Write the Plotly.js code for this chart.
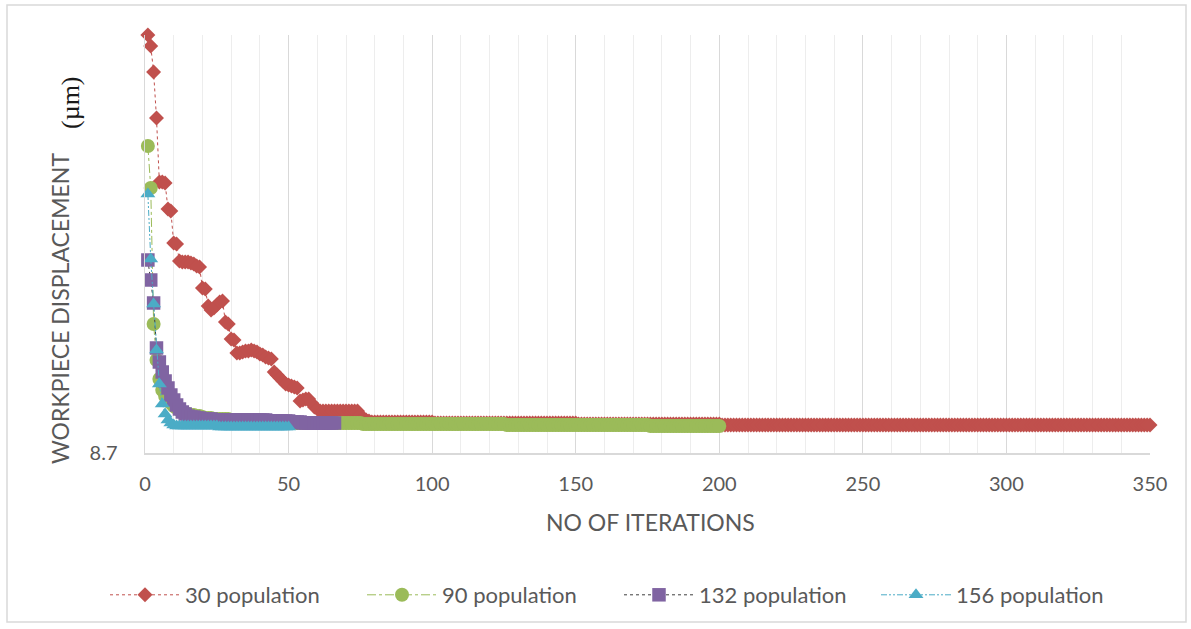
<!DOCTYPE html>
<html>
<head>
<meta charset="utf-8">
<script src="https://cdn.plot.ly/plotly-3.0.1.min.js"></script>
<style>
  html, body { margin: 0; padding: 0; background: #ffffff; }
  #chart { width: 1191px; height: 629px; }
</style>
</head>
<body>
<div id="chart"></div>
<script>
// Best workpiece displacement (µm) per iteration for four population sizes
const seriesNames = ['30 population', '90 population', '132 population', '156 population'];

const pop30 = [
  9.118, 9.107, 9.081, 9.035, 8.971, 8.971, 8.970, 8.944, 8.942, 8.910,
  8.909, 8.892, 8.891, 8.891, 8.891, 8.890, 8.889, 8.887, 8.886, 8.865,
  8.864, 8.847, 8.843, 8.845, 8.848, 8.851, 8.852, 8.831, 8.829, 8.814,
  8.813, 8.800, 8.800, 8.801, 8.802, 8.802, 8.803, 8.802, 8.801, 8.799,
  8.798, 8.796, 8.795, 8.794, 8.781, 8.778, 8.775, 8.772, 8.769, 8.768,
  8.767, 8.766, 8.765, 8.752, 8.753, 8.754, 8.754, 8.750, 8.746, 8.744,
  8.742, 8.742, 8.742, 8.742, 8.742, 8.742, 8.742, 8.742, 8.742, 8.742,
  8.742, 8.742, 8.742, 8.742, 8.738, 8.735, 8.733, 8.732, 8.731, 8.731,
  8.731, 8.731, 8.731, 8.731, 8.731, 8.731, 8.731, 8.731, 8.731, 8.731,
  8.731, 8.731, 8.731, 8.731, 8.731, 8.731, 8.731, 8.731, 8.731, 8.731,
  8.730, 8.730, 8.730, 8.730, 8.730, 8.730, 8.730, 8.730, 8.730, 8.730,
  8.730, 8.730, 8.730, 8.730, 8.730, 8.730, 8.730, 8.730, 8.730, 8.730,
  8.730, 8.730, 8.730, 8.730, 8.730, 8.730, 8.730, 8.730, 8.730, 8.730,
  8.730, 8.730, 8.730, 8.730, 8.730, 8.730, 8.730, 8.730, 8.730, 8.730,
  8.730, 8.730, 8.730, 8.730, 8.730, 8.730, 8.730, 8.730, 8.730, 8.730,
  8.729, 8.729, 8.729, 8.729, 8.729, 8.729, 8.729, 8.729, 8.729, 8.729,
  8.729, 8.729, 8.729, 8.729, 8.729, 8.729, 8.729, 8.729, 8.729, 8.729,
  8.729, 8.729, 8.729, 8.729, 8.729, 8.729, 8.729, 8.729, 8.729, 8.729,
  8.729, 8.729, 8.729, 8.729, 8.729, 8.729, 8.729, 8.729, 8.729, 8.729,
  8.729, 8.729, 8.729, 8.729, 8.729, 8.729, 8.729, 8.729, 8.729, 8.729,
  8.728, 8.728, 8.728, 8.728, 8.728, 8.728, 8.728, 8.728, 8.728, 8.728,
  8.728, 8.728, 8.728, 8.728, 8.728, 8.728, 8.728, 8.728, 8.728, 8.728,
  8.728, 8.728, 8.728, 8.728, 8.728, 8.728, 8.728, 8.728, 8.728, 8.728,
  8.728, 8.728, 8.728, 8.728, 8.728, 8.728, 8.728, 8.728, 8.728, 8.728,
  8.728, 8.728, 8.728, 8.728, 8.728, 8.728, 8.728, 8.728, 8.728, 8.728,
  8.728, 8.728, 8.728, 8.728, 8.728, 8.728, 8.728, 8.728, 8.728, 8.728,
  8.728, 8.728, 8.728, 8.728, 8.728, 8.728, 8.728, 8.728, 8.728, 8.728,
  8.728, 8.728, 8.728, 8.728, 8.728, 8.728, 8.728, 8.728, 8.728, 8.728,
  8.728, 8.728, 8.728, 8.728, 8.728, 8.728, 8.728, 8.728, 8.728, 8.728,
  8.728, 8.728, 8.728, 8.728, 8.728, 8.728, 8.728, 8.728, 8.728, 8.728,
  8.728, 8.728, 8.728, 8.728, 8.728, 8.728, 8.728, 8.728, 8.728, 8.728,
  8.728, 8.728, 8.728, 8.728, 8.728, 8.728, 8.728, 8.728, 8.728, 8.728,
  8.728, 8.728, 8.728, 8.728, 8.728, 8.728, 8.728, 8.728, 8.728, 8.728,
  8.728, 8.728, 8.728, 8.728, 8.728, 8.728, 8.728, 8.728, 8.728, 8.728,
  8.728, 8.728, 8.728, 8.728, 8.728, 8.728, 8.728, 8.728, 8.728, 8.728
];

const pop90 = [
  9.007, 8.965, 8.829, 8.793, 8.774, 8.763, 8.757, 8.753, 8.750, 8.747,
  8.745, 8.743, 8.741, 8.740, 8.739, 8.738, 8.738, 8.737, 8.737, 8.736,
  8.735, 8.735, 8.735, 8.734, 8.734, 8.734, 8.734, 8.734, 8.734, 8.733,
  8.733, 8.733, 8.733, 8.733, 8.733, 8.732, 8.732, 8.732, 8.732, 8.732,
  8.732, 8.732, 8.731, 8.731, 8.731, 8.731, 8.731, 8.731, 8.731, 8.731,
  8.730, 8.730, 8.730, 8.730, 8.730, 8.730, 8.730, 8.730, 8.730, 8.730,
  8.730, 8.730, 8.730, 8.730, 8.730, 8.730, 8.730, 8.730, 8.730, 8.730,
  8.730, 8.730, 8.730, 8.730, 8.730, 8.729, 8.729, 8.729, 8.729, 8.729,
  8.729, 8.729, 8.729, 8.729, 8.729, 8.729, 8.729, 8.729, 8.729, 8.729,
  8.729, 8.729, 8.729, 8.729, 8.729, 8.729, 8.729, 8.729, 8.729, 8.729,
  8.729, 8.729, 8.729, 8.729, 8.729, 8.729, 8.729, 8.729, 8.729, 8.729,
  8.729, 8.729, 8.729, 8.729, 8.729, 8.729, 8.729, 8.729, 8.729, 8.729,
  8.729, 8.729, 8.729, 8.729, 8.729, 8.728, 8.728, 8.728, 8.728, 8.728,
  8.728, 8.728, 8.728, 8.728, 8.728, 8.728, 8.728, 8.728, 8.728, 8.728,
  8.728, 8.728, 8.728, 8.728, 8.728, 8.728, 8.728, 8.728, 8.728, 8.728,
  8.728, 8.728, 8.728, 8.728, 8.728, 8.728, 8.728, 8.728, 8.728, 8.728,
  8.728, 8.728, 8.728, 8.728, 8.728, 8.728, 8.728, 8.728, 8.728, 8.728,
  8.728, 8.728, 8.728, 8.728, 8.728, 8.727, 8.727, 8.727, 8.727, 8.727,
  8.727, 8.727, 8.727, 8.727, 8.727, 8.727, 8.727, 8.727, 8.727, 8.727,
  8.727, 8.727, 8.727, 8.727, 8.727, 8.727, 8.727, 8.727, 8.727, 8.727
];

const pop132 = [
  8.893, 8.873, 8.850, 8.805, 8.791, 8.781, 8.772, 8.765, 8.758, 8.753,
  8.748, 8.744, 8.741, 8.739, 8.737, 8.736, 8.736, 8.735, 8.735, 8.734,
  8.734, 8.734, 8.734, 8.733, 8.733, 8.733, 8.733, 8.733, 8.733, 8.733,
  8.733, 8.733, 8.733, 8.733, 8.733, 8.733, 8.733, 8.733, 8.733, 8.733,
  8.733, 8.733, 8.732, 8.732, 8.732, 8.732, 8.732, 8.732, 8.732, 8.732,
  8.731, 8.731, 8.731, 8.731, 8.730, 8.730, 8.730, 8.730, 8.730, 8.730,
  8.730, 8.730, 8.730, 8.730, 8.730, 8.730
];

const pop156 = [
  8.959, 8.894, 8.849, 8.803, 8.769, 8.749, 8.739, 8.733, 8.730, 8.728,
  8.727, 8.727, 8.727, 8.727, 8.727, 8.727, 8.727, 8.727, 8.727, 8.727,
  8.727, 8.727, 8.727, 8.727, 8.727, 8.726, 8.726, 8.726, 8.726, 8.726,
  8.726, 8.726, 8.726, 8.726, 8.726, 8.726, 8.726, 8.726, 8.726, 8.726,
  8.726, 8.726, 8.726, 8.726, 8.726, 8.726, 8.726, 8.726, 8.726, 8.726
];

const xTicks = [0, 50, 100, 150, 200, 250, 300, 350];
const yTicks = [8.7];
const yTickText = ['8.7'];

// iteration numbers start at 1
const iterations = values => values.map((_, i) => i + 1);

const textGrey = '#595959';
const uiFont = 'Lato, "Noto Sans", sans-serif';

const styles = [
  { color: '#C0504D', line: '#C0504D', dash: 'dot', symbol: 'diamond', size: 11.5 },
  { color: '#9BBB59', line: '#9BBB59', dash: 'dashdot', symbol: 'circle', size: 14 },
  { color: '#8064A2', line: '#3F3F3F', dash: 'dot', symbol: 'square', size: 13.5 },
  { color: '#4BACC6', line: '#4BACC6', dash: '6px,2px,2px,2px,2px,2px', symbol: 'triangle-up', size: 13 }
];

const allSeries = [pop30, pop90, pop132, pop156];

const traces = allSeries.map((vals, k) => ({
  type: 'scatter',
  mode: 'lines+markers',
  name: seriesNames[k],
  x: iterations(vals),
  y: vals,
  cliponaxis: false,
  line: { color: styles[k].line, width: 1, dash: styles[k].dash },
  marker: { color: styles[k].color, symbol: styles[k].symbol, size: styles[k].size, line: { width: 0 } }
}));

// plot area: 145..1150 px horizontally, 35..453 px vertically
const L = 145, R = 41, T = 35, B = 176;
const W = 1191 - L - R, H = 629 - T - B;
const px = v => (v - L) / W;          // page x -> paper x
const py = v => (629 - B - v) / H;    // page y -> paper y

const layout = {
  width: 1191,
  height: 629,
  margin: { l: L, r: R, t: T, b: B, pad: 0 },
  paper_bgcolor: '#ffffff',
  plot_bgcolor: '#ffffff',
  showlegend: true,
  xaxis: {
    range: [0, 350],
    tickvals: xTicks,
    ticktext: xTicks.map(String),
    showgrid: true,
    gridcolor: '#D9D9D9',
    gridwidth: 1,
    minor: { dtick: 10, tick0: 0, showgrid: true, gridcolor: '#EDEDED', gridwidth: 1 },
    showline: true,
    linecolor: '#D9D9D9',
    linewidth: 1.5,
    zeroline: false,
    ticks: '',
    ticklabelstandoff: 12,
    tickfont: { family: uiFont, size: 20, color: textGrey },
    fixedrange: true
  },
  yaxis: {
    range: [8.7, 9.118],
    tickvals: yTicks,
    ticktext: yTickText,
    showgrid: false,
    showline: true,
    linecolor: '#D9D9D9',
    linewidth: 1.5,
    zeroline: false,
    ticks: '',
    ticklabelstandoff: 22,
    tickfont: { family: uiFont, size: 20, color: textGrey },
    fixedrange: true
  },
  legend: {
    orientation: 'h',
    x: px(105),
    xanchor: 'left',
    y: py(595),
    yanchor: 'middle',
    itemwidth: 70,
    entrywidth: 172,
    entrywidthmode: 'pixels',
    font: { family: uiFont, size: 22, color: textGrey },
    bgcolor: 'rgba(0,0,0,0)'
  },
  annotations: [
    {
      text: 'NO OF ITERATIONS',
      xref: 'paper', yref: 'paper',
      x: px(650), y: py(522),
      xanchor: 'center', yanchor: 'middle',
      showarrow: false,
      font: { family: uiFont, size: 23, color: textGrey }
    },
    {
      text: 'WORKPIECE DISPLACEMENT',
      textangle: -90,
      xref: 'paper', yref: 'paper',
      x: px(60), y: py(309),
      xanchor: 'center', yanchor: 'middle',
      showarrow: false,
      font: { family: uiFont, size: 23, color: textGrey }
    },
    {
      text: '(µm)',
      textangle: -90,
      xref: 'paper', yref: 'paper',
      x: px(71), y: py(103),
      xanchor: 'center', yanchor: 'middle',
      showarrow: false,
      font: { family: '"Liberation Serif", "DejaVu Serif", serif', size: 26, color: '#1a1a1a' }
    }
  ],
  shapes: [
    {
      type: 'rect', xref: 'paper', yref: 'paper', layer: 'below',
      x0: px(7), x1: px(1186), y0: py(622), y1: py(5),
      line: { color: '#D9D9D9', width: 1.5 },
      fillcolor: 'rgba(0,0,0,0)'
    }
  ]
};

Plotly.newPlot('chart', traces, layout, { staticPlot: true, displayModeBar: false });
</script>
</body>
</html>
